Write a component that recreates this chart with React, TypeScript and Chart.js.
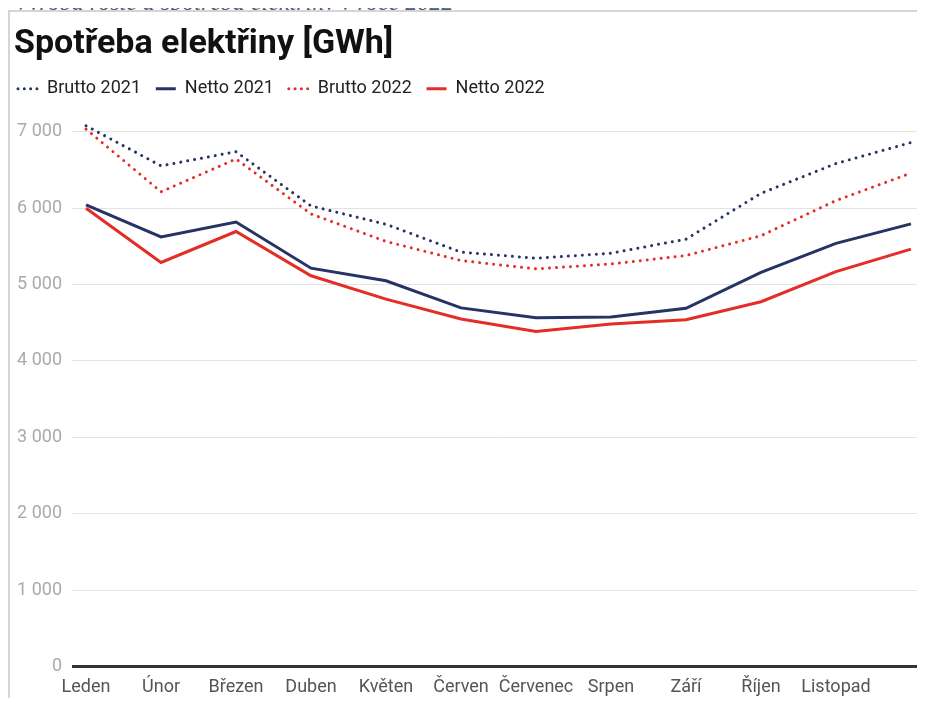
import React, { useEffect, useRef } from 'react';
import { Chart, registerables } from 'chart.js';

Chart.register(...registerables);

const months = ['Leden', 'Únor', 'Březen', 'Duben', 'Květen', 'Červen', 'Červenec', 'Srpen', 'Září', 'Říjen', 'Listopad', 'Prosinec'];
const brutto2021 = [7080, 6555, 6740, 6030, 5790, 5425, 5345, 5410, 5595, 6195, 6585, 6860];
const netto2021 = [6045, 5625, 5820, 5215, 5050, 4695, 4565, 4575, 4690, 5160, 5540, 5795];
const brutto2022 = [7035, 6215, 6645, 5925, 5565, 5315, 5205, 5270, 5380, 5640, 6100, 6460];
const netto2022 = [6000, 5290, 5695, 5115, 4810, 4550, 4385, 4485, 4540, 4775, 5170, 5465];
const yTicks = [0, 1000, 2000, 3000, 4000, 5000, 6000, 7000];

const NAVY = '#253464';
const RED = '#e52d27';

const fmt = (v: number) => Math.round(v).toString().replace(/\B(?=(\d{3})+(?!\d))/g, ' ');

export default function App() {
  const ref = useRef<HTMLCanvasElement>(null);

  useEffect(() => {
    const toXY = (arr: number[]) => arr.map((v, i) => ({ x: i, y: v }));
    const dotted = [0.01, 7];
    const chart = new Chart(ref.current!, {
      type: 'line',
      data: {
        datasets: [
          { label: 'Brutto 2021', data: toXY(brutto2021), borderColor: NAVY, backgroundColor: NAVY, borderWidth: 3, borderDash: dotted, borderCapStyle: 'round' },
          { label: 'Netto 2021', data: toXY(netto2021), borderColor: NAVY, backgroundColor: NAVY, borderWidth: 3 },
          { label: 'Brutto 2022', data: toXY(brutto2022), borderColor: RED, backgroundColor: RED, borderWidth: 3, borderDash: dotted, borderCapStyle: 'round' },
          { label: 'Netto 2022', data: toXY(netto2022), borderColor: RED, backgroundColor: RED, borderWidth: 3 },
        ],
      },
      options: {
        animation: false,
        responsive: true,
        maintainAspectRatio: false,
        layout: { padding: { left: 4, top: 0, right: 0, bottom: -10 } },
        elements: { point: { radius: 0, hoverRadius: 0 }, line: { tension: 0 } },
        plugins: {
          tooltip: { enabled: false },
          title: {
            display: true,
            text: 'Spotřeba elektřiny [GWh]',
            align: 'start',
            color: '#111',
            font: { family: 'Roboto', size: 34, weight: 'bold' },
            padding: { top: 12, bottom: 11 },
          },
          legend: {
            display: true,
            align: 'start',
            labels: {
              usePointStyle: true,
              pointStyle: 'line',
              pointStyleWidth: 20,
              padding: 4,
              color: '#222',
              font: { family: 'Roboto', size: 18 },
              generateLabels: (c: any) =>
                Chart.defaults.plugins.legend.labels.generateLabels(c).map((l: any) => {
                  const ds = c.data.datasets[l.datasetIndex];
                  const isDotted = !!(ds.borderDash && ds.borderDash.length);
                  return {
                    ...l,
                    text: l.text + '  \u200A',
                    lineWidth: 3,
                    strokeStyle: ds.borderColor,
                    lineDash: isDotted ? [0.01, 6.3] : [],
                    lineCap: isDotted ? 'round' : 'butt',
                  };
                }),
            },
          },
        },
        scales: {
          x: {
            type: 'linear',
            min: -0.187,
            max: 11.187,
            grid: { display: false, drawTicks: false },
            border: { display: false },
            ticks: {
              stepSize: 1,
              includeBounds: false,
              autoSkip: false,
              maxTicksLimit: 20,
              maxRotation: 0,
              padding: 10,
              color: '#555',
              font: { family: 'Roboto', size: 18 },
              callback: (v: any) => {
                const i = Math.round(Number(v));
                return i >= 0 && i < months.length - 1 ? months[i] : '';
              },
            },
          },
          y: {
            min: yTicks[0],
            max: 7315,
            border: { display: false },
            grid: {
              drawTicks: false,
              color: (ctx: any) => (ctx.tick && ctx.tick.value === 0 ? '#333' : '#e3e3e3'),
              lineWidth: (ctx: any) => (ctx.tick && ctx.tick.value === 0 ? 3 : 1),
            },
            afterFit: (s: any) => { s.width = 58; },
            afterBuildTicks: (s: any) => { s.ticks = yTicks.map((v) => ({ value: v })); },
            ticks: {
              padding: 10,
              color: '#aaa',
              font: { family: 'Roboto', size: 18 },
              callback: (v: any) => fmt(Number(v)),
            },
          },
        },
      },
    } as any);
    return () => chart.destroy();
  }, []);

  return (
    <div style={{ marginTop: -8 }}>
      <div style={{ height: 10, overflow: 'hidden', position: 'relative' }}>
        <div
          style={{
            position: 'absolute',
            left: 6,
            top: -10,
            fontFamily: '"Liberation Serif", serif',
            fontStyle: 'italic',
            fontSize: 24,
            lineHeight: '24px',
            color: '#4a5b7c',
            whiteSpace: 'nowrap',
          }}
        >
          Výroba roste a spotřeba elektřiny v roce 2022
        </div>
      </div>
      <div style={{ width: 915, marginRight: -8, borderLeft: '2px solid #d5d5d5', borderTop: '2px solid #d5d5d5' }}>
        <div style={{ position: 'relative', width: 915, height: 686 }}>
          <canvas ref={ref} />
        </div>
      </div>
    </div>
  );
}
